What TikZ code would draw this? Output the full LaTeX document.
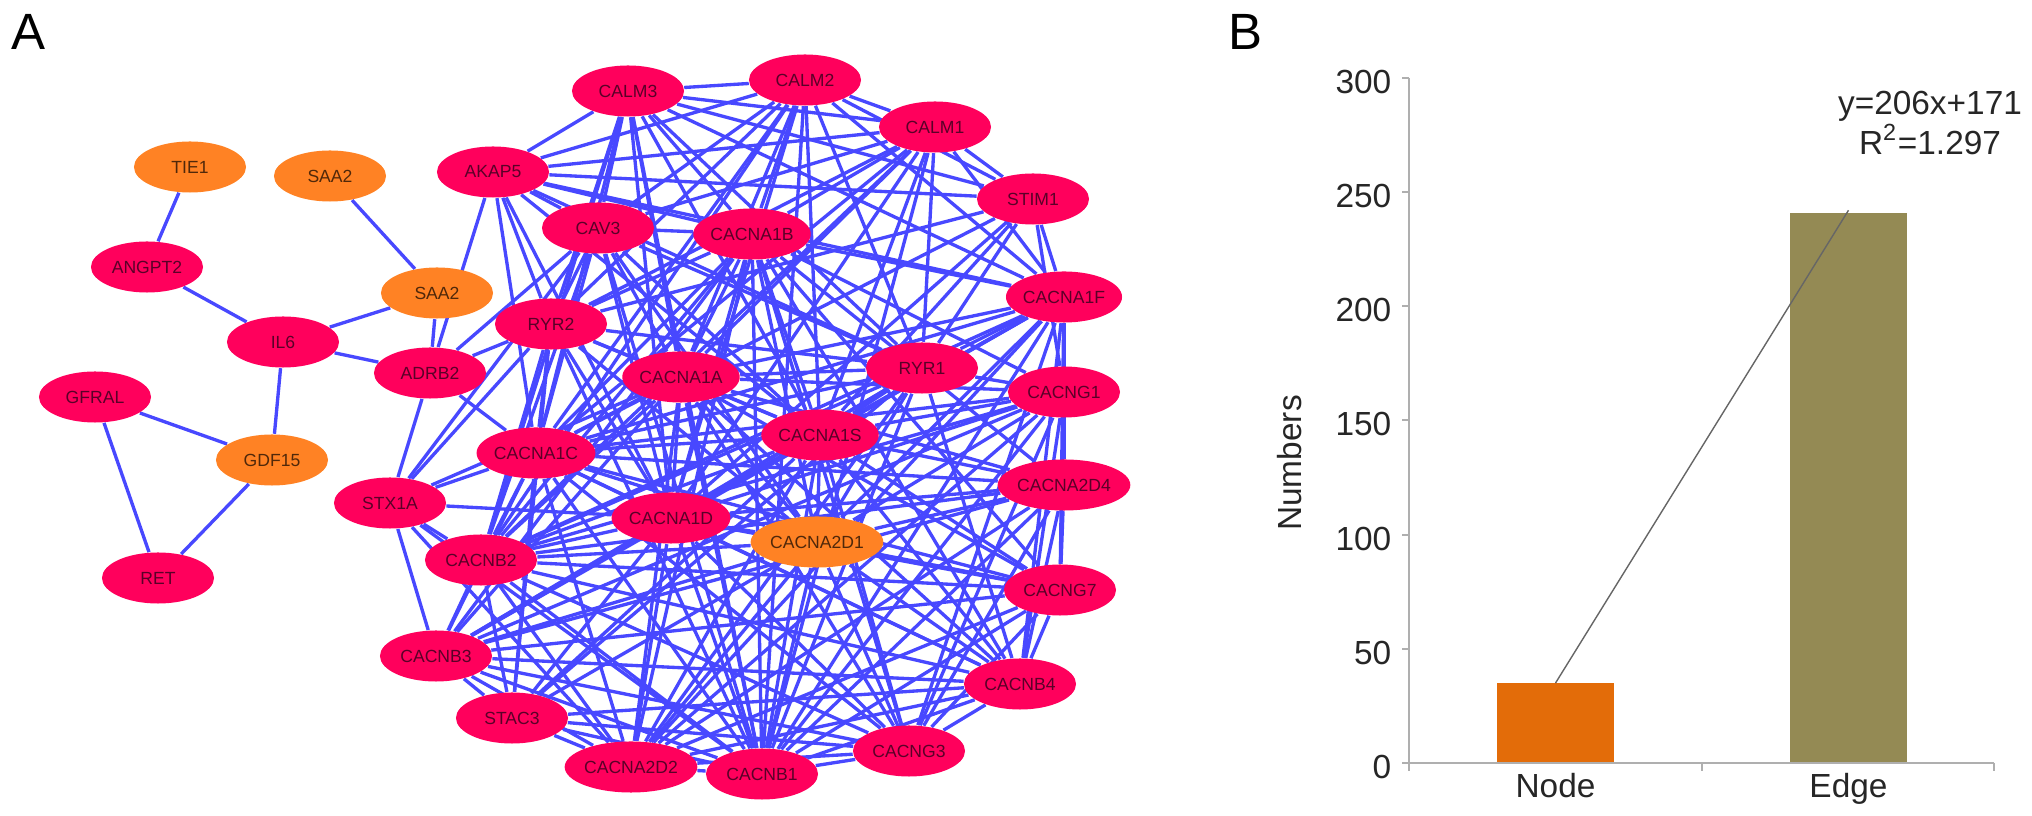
\documentclass[tikz,border=0pt]{standalone}
\usepackage{fontspec}
\setmainfont{Liberation Sans}
\usetikzlibrary{shapes.geometric,backgrounds}
\newcommand{\px}{0.01cm}
\newcommand{\channels}{cacna1f,cacng1,cacna2d4,cacng7,cacnb4,cacng3,cacnb1,cacna2d2,cacnb3,cacnb2,cacna1c,cacna1b,cacna1a,cacna1s,cacna1d,cacna2d1}
\definecolor{genered}{RGB}{255,0,92}
\definecolor{geneorange}{RGB}{255,130,36}
\definecolor{genetext}{RGB}{90,0,40}
\definecolor{hubtext}{RGB}{80,40,10}
\definecolor{linkblue}{RGB}{72,72,255}
\definecolor{nodebar}{RGB}{227,108,9}
\definecolor{edgebar}{RGB}{148,138,84}
\definecolor{axisgray}{RGB}{175,175,175}

\begin{document}
\begin{tikzpicture}[x=\px, y=-\px,
    gene/.style={ellipse, fill=genered, text=genetext, minimum width=1.12cm, minimum height=0.51cm, inner sep=0pt, font=\fontsize{5}{6}\selectfont},
    hub/.style={gene, fill=geneorange, text=hubtext},
    link/.style={draw=linkblue, line width=0.95pt},
    panel/.style={inner sep=0pt, font=\fontsize{14.5}{16}\selectfont},
    chartlabel/.style={inner sep=0pt, text=black!85, font=\fontsize{9.5}{11.2}\selectfont}]
    \useasboundingbox (0,0) rectangle (2032,816);

    % Panel A: small group on the left
    \node[panel] (label-a) at (29,32) {A};
    \node[hub]  (tie1)   at (190,167) {TIE1};
    \node[hub]  (saa2-a) at (330,176) {SAA2};
    \node[gene] (angpt2) at (147,267) {ANGPT2};
    \node[hub]  (saa2-b) at (437,293) {SAA2};
    \node[gene] (il6)    at (283,342) {IL6};
    \node[gene] (gfral)  at (95,397)  {GFRAL};
    \node[hub]  (gdf15)  at (272,460) {GDF15};
    \node[gene] (ret)    at (158,578) {RET};
    \node[gene] (adrb2)  at (430,373) {ADRB2};
    \node[gene] (akap5)  at (493,172) {AKAP5};
    \node[gene] (stx1a)  at (390,503) {STX1A};

    % Panel A: the big cluster
    \node[gene] (calm3)    at (628,91)  {CALM3};
    \node[gene] (calm2)    at (805,80)  {CALM2};
    \node[gene] (calm1)    at (935,127) {CALM1};
    \node[gene] (stim1)    at (1033,199) {STIM1};
    \node[gene] (cacna1f)  at (1064,297) {CACNA1F};
    \node[gene] (cacng1)   at (1064,392) {CACNG1};
    \node[gene] (cacna2d4) at (1064,485) {CACNA2D4};
    \node[gene] (cacng7)   at (1060,590) {CACNG7};
    \node[gene] (cacnb4)   at (1020,684) {CACNB4};
    \node[gene] (cacng3)   at (909,751) {CACNG3};
    \node[gene] (cacnb1)   at (762,774) {CACNB1};
    \node[gene] (cacna2d2) at (631,767) {CACNA2D2};
    \node[gene] (stac3)    at (512,718) {STAC3};
    \node[gene] (cacnb3)   at (436,656) {CACNB3};
    \node[gene] (cacnb2)   at (481,560) {CACNB2};
    \node[gene] (cacna1c)  at (536,453) {CACNA1C};
    \node[gene] (ryr2)     at (551,324) {RYR2};
    \node[gene] (cav3)     at (598,228) {CAV3};
    \node[gene] (cacna1b)  at (752,234) {CACNA1B};
    \node[gene] (cacna1a)  at (681,377) {CACNA1A};
    \node[gene] (ryr1)     at (922,368) {RYR1};
    \node[gene] (cacna1s)  at (820,435) {CACNA1S};
    \node[gene] (cacna1d)  at (671,518) {CACNA1D};
    \node[hub]  (cacna2d1) at (817,542) {CACNA2D1};

    \begin{scope}[on background layer]
        % left group
        \foreach \a/\b in {tie1/angpt2, angpt2/il6, il6/saa2-b, saa2-a/saa2-b, il6/adrb2, il6/gdf15,
                           gfral/gdf15, gfral/ret, gdf15/ret, saa2-b/adrb2}
            \draw[link] (\a) -- (\b);
        % everything touching the cluster
        \foreach \a/\others in {
            adrb2/{akap5,ryr2,cav3,cacna1c,stx1a},
            akap5/{calm3,calm2,calm1,stim1,cacna1f,cav3,cacna1b,ryr2,cacna1c,cacna1d,cacna1s,ryr1},
            stx1a/{cacna1c,ryr2,cav3,cacna1a,cacna1d,cacnb2,cacnb1,cacna2d2,cacnb3},
            calm3/{calm2,calm1,stim1,ryr1,ryr2,cav3,cacna1a,cacna1b,cacna1c,cacna1d,cacna1f,cacna1s,cacnb2,cacnb1},
            calm2/{calm1,stim1,ryr1,ryr2,cav3,cacna1a,cacna1b,cacna1c,cacna1d,cacna1f,cacna1s,cacnb2,cacnb1},
            calm1/{stim1,ryr1,ryr2,cav3,cacna1a,cacna1b,cacna1c,cacna1d,cacna1f,cacna1s,cacnb2,cacnb1},
            stim1/{cacna1c,cacna1s,cacna1f,cacna1d,ryr1,ryr2,cacng1},
            ryr1/{ryr2,cav3,stac3,cacna1s,cacna1c,cacnb1,cacnb2,cacna1d,cacna2d1,cacng1,cacna1a,cacna1f,cacnb4,cacnb3,cacna2d2},
            ryr2/{cav3,cacna1c,cacna1s,cacna1d,cacnb2,cacna1a,cacna1b,cacnb1,cacna2d1,stac3},
            cav3/{cacna1c,cacna1s,cacna1a,cacna1b,cacna1d,cacnb1,cacnb2,cacna2d1},
            stac3/{cacna1s,cacnb1,cacna1c,cacnb2,cacna1d,cacna2d1,cacnb3,cacnb4,cacna2d2,cacng3}}
            \foreach \b in \others
                \draw[link] (\a) -- (\b);
        % channel subunits all linked
        \foreach \a [count=\i] in \channels {
            \foreach \b [count=\j] in \channels {
                \ifnum\j>\i \draw[link] (\a) -- (\b); \fi
            }
        }
    \end{scope}

    % Panel B: bar chart
    \node[panel] (label-b) at (1245,32) {B};
    \begin{scope}[shift={(1409,763)}, x=\px, y=0.02283cm]
        \fill[nodebar] (88,0) rectangle (205,35);
        \fill[edgebar] (381,0) rectangle (498,241);
        \coordinate (node-top) at (146.5,35);
        \coordinate (edge-top) at (439.5,242);
        \draw[black!60, line width=0.4pt] (node-top) -- (edge-top);
        \draw[axisgray, line width=0.6pt] (0,300) -- (0,0) -- (585,0);
        \foreach \v in {0,50,...,300} {
            \draw[axisgray, line width=0.6pt] (0,\v) -- ++(-0.07cm,0);
            \node[chartlabel, anchor=east] at ([xshift=-0.17cm, yshift=-0.04cm]0,\v) {\v};
        }
        \foreach \t in {0,293,585}
            \draw[axisgray, line width=0.6pt] (\t,0) -- ++(0,-0.08cm);
        \node[chartlabel, anchor=north] at ([yshift=-0.10cm]146.5,0) {Node};
        \node[chartlabel, anchor=north] at ([yshift=-0.10cm]439.5,0) {Edge};
    \end{scope}
    \node[chartlabel, rotate=90] (numbers) at (1290,463) {Numbers};
    \node[chartlabel, align=center] (fit-eq) at (1930,123) {y=206x+171\\R\textsuperscript{2}=1.297};
\end{tikzpicture}
\end{document}
